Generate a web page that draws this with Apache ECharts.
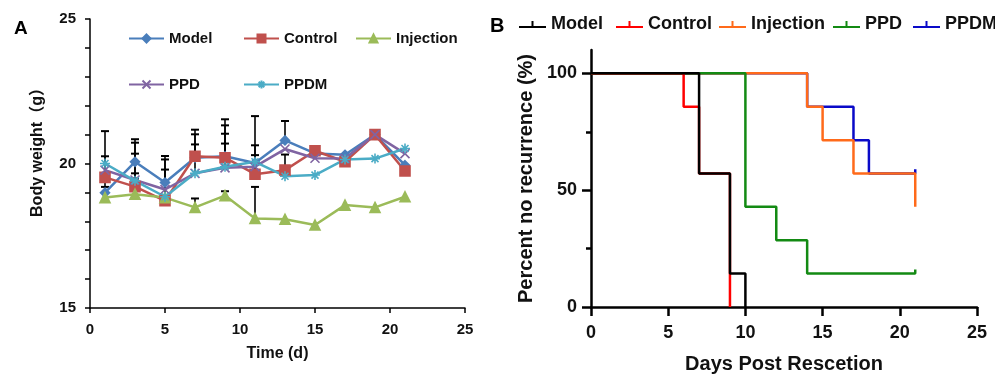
<!DOCTYPE html>
<html lang="en">

<head>
  <meta charset="UTF-8">
  <title>Body weight / recurrence</title>
  <script src="https://cdn.jsdelivr.net/npm/echarts@6/dist/echarts.min.js"></script>
  <style>
    body { margin: 0; background: #fff; }
    .panel { position: absolute; top: 0; height: 376px; }
  </style>
</head>

<body>
  <div id="chartA" class="panel" style="left:0;width:485px"></div>
  <div id="chartB" class="panel" style="left:485px;width:510px"></div>
  <script>
    // ---- panel A: body weight (g) ----
    var days = [1, 3, 5, 7, 9, 11, 13, 15, 17, 19, 21];
    var weightModel = [18.99, 20.06, 19.34, 20.2, 20.25, 20.02, 20.8, 20.35, 20.3, 21.0, 19.94];
    var weightControl = [19.52, 19.2, 18.71, 20.25, 20.2, 19.63, 19.77, 20.44, 20.06, 21.0, 19.74];
    var weightInjection = [18.82, 18.94, 18.82, 18.48, 18.89, 18.1, 18.07, 17.87, 18.56, 18.48, 18.85];
    var weightPPD = [19.77, 19.43, 19.1, 19.66, 19.85, 19.89, 20.5, 20.18, 20.17, 21.0, 20.34];
    var weightPPDM = [20.0, 19.4, 18.85, 19.66, 19.89, 20.06, 19.56, 19.6, 20.14, 20.17, 20.52];
    // upper error (SD), 0 = no bar visible
    var sdModel = [0.41, 0.78, 0.92, 0.81, 1.07, 1.62, 0.67, 0, 0, 0, 0];
    var sdControl = [0.73, 0.46, 1.08, 0.92, 1.33, 0.66, 0.54, 0, 0, 0, 0];
    var sdInjection = [0.37, 0.54, 0, 0.31, 0.15, 1.09, 0, 0, 0, 0, 0];
    var sdPPD = [0, 0.91, 1.04, 0, 0.84, 0, 0, 0, 0, 0, 0];
    var sdPPDM = [1.12, 1.32, 0, 1.0, 1.14, 0.57, 0, 0, 0, 0, 0];

    // ---- panel B: Kaplan-Meier, [day, percent] ----
    var kmModel = [[0, 100], [7, 57.1], [9, 14.3], [10, 0]];
    var kmControl = [[0, 100], [6, 85.7], [7, 57.1], [9, 0]];
    var kmInjection = [[0, 100], [14, 85.7], [15, 71.4], [17, 57.1], [21, 57.1], [21, 42.9]];
    var kmPPD = [[0, 100], [10, 42.9], [12, 28.6], [14, 14.3], [21, 14.3], [21, 16]];
    var kmPPDM = [[0, 100], [14, 85.7], [17, 71.4], [18, 57.1], [21, 57.1], [21, 59]];

    var FONT = '"Liberation Sans", Arial, "Noto Sans CJK SC", sans-serif';

    // ================= chart A =================
    var chartA = echarts.init(document.getElementById('chartA'));

    function pairs(vals) {
      return days.map(function (d, i) { return [d, vals[i]]; });
    }
    var errData = [];
    [[weightModel, sdModel], [weightControl, sdControl], [weightInjection, sdInjection],
     [weightPPD, sdPPD], [weightPPDM, sdPPDM]].forEach(function (g) {
      days.forEach(function (d, i) {
        if (g[1][i] > 0) errData.push([d, g[0][i], g[0][i] + g[1][i]]);
      });
    });

    function lineA(name, data, color, symbol, size) {
      return {
        name: name, type: 'line', data: pairs(data), z: 3,
        symbol: symbol, symbolSize: size,
        lineStyle: { color: color, width: 2.5 },
        itemStyle: { color: color, borderColor: color, borderWidth: 1.6 }
      };
    }
    function legendA(name, left, top) {
      return {
        data: [name], left: left, top: top, padding: 0,
        itemWidth: 35, itemHeight: 10,
        textStyle: { fontFamily: FONT, fontWeight: 'bold', fontSize: 15, color: '#111' }
      };
    }

    chartA.setOption({
      animation: false,
      title: { text: 'A', left: 9, top: 14, textStyle: { fontFamily: FONT, fontSize: 19, fontWeight: 'bold', color: '#000' } },
      legend: [
        legendA('Model', 128, 31), legendA('Control', 243, 31), legendA('Injection', 355, 31),
        legendA('PPD', 128, 77), legendA('PPDM', 243, 77)
      ],
      grid: { left: 90, top: 19, width: 375, height: 289, outerBoundsMode: 'none' },
      xAxis: {
        type: 'value', min: 0, max: 25, interval: 5,
        name: 'Time (d)', nameLocation: 'middle', nameGap: 38,
        nameTextStyle: { fontFamily: FONT, fontWeight: 'bold', fontSize: 16, color: '#111' },
        axisLine: { lineStyle: { color: '#000', width: 1.5 } },
        axisTick: { length: 5, lineStyle: { color: '#000', width: 1.5 } },
        axisLabel: { margin: 14, fontFamily: FONT, fontWeight: 'bold', fontSize: 15, color: '#111' },
        splitLine: { show: false }
      },
      yAxis: {
        type: 'value', min: 15, max: 25, interval: 1,
        name: 'Body weight（g）', nameLocation: 'middle', nameGap: 44,
        nameTextStyle: { fontFamily: FONT, fontWeight: 'bold', fontSize: 16, color: '#111', padding: [0, 0, 0, 30] },
        axisLine: { lineStyle: { color: '#000', width: 1.5 } },
        axisTick: { length: 5, lineStyle: { color: '#000', width: 1.5 } },
        axisLabel: {
          margin: 14, fontFamily: FONT, fontWeight: 'bold', fontSize: 15, color: '#111',
          formatter: function (v) { return v % 5 === 0 ? v : ''; }
        },
        splitLine: { show: false }
      },
      series: [
        {
          type: 'custom', z: 1, data: errData, encode: { x: 0, y: [1, 2] },
          renderItem: function (params, api) {
            var p0 = api.coord([api.value(0), api.value(1)]);
            var p1 = api.coord([api.value(0), api.value(2)]);
            return {
              type: 'group', children: [
                { type: 'line', shape: { x1: p0[0], y1: p0[1], x2: p1[0], y2: p1[1] }, style: { stroke: '#000', lineWidth: 1.6 } },
                { type: 'line', shape: { x1: p1[0] - 4, y1: p1[1], x2: p1[0] + 4, y2: p1[1] }, style: { stroke: '#000', lineWidth: 2 } }
              ]
            };
          }
        },
        lineA('Model', weightModel, '#4a7ebb', 'diamond', 9),
        lineA('Control', weightControl, '#c0504d', 'rect', 10),
        lineA('Injection', weightInjection, '#9bbb59', 'triangle', 10),
        lineA('PPD', weightPPD, '#8064a2', 'path://M0,0L10,10M10,0L0,10', 9),
        lineA('PPDM', weightPPDM, '#4bacc6', 'path://M5,0L5,10M0,5L10,5M1.5,1.5L8.5,8.5M8.5,1.5L1.5,8.5', 10)
      ]
    });

    // ================= chart B =================
    var chartB = echarts.init(document.getElementById('chartB'));
    var censorIcon = 'path://M0,7L26,7M13,7L13,1';

    function lineB(name, data, color) {
      return {
        name: name, type: 'line', step: 'end', data: data, symbol: 'none',
        lineStyle: { color: color, width: 2.5 },
        itemStyle: { color: color, borderColor: color }
      };
    }
    function legendB(name, color, left) {
      return {
        data: [{ name: name, icon: censorIcon, itemStyle: { color: color, borderColor: color, borderWidth: 2 } }],
        left: left, top: 15, padding: 0, itemWidth: 27, itemHeight: 8,
        textStyle: { fontFamily: FONT, fontWeight: 'bold', fontSize: 18, color: '#111' }
      };
    }
    var axisTextB = { fontFamily: FONT, fontWeight: 'bold', fontSize: 18, color: '#111' };

    chartB.setOption({
      animation: false,
      title: { text: 'B', left: 0, top: 11, textStyle: { fontFamily: FONT, fontSize: 20, fontWeight: 'bold', color: '#000' } },
      legend: [
        legendB('Model', '#000', 33), legendB('Control', '#ff0000', 130), legendB('Injection', '#ff6a1a', 233),
        legendB('PPD', '#138a13', 347), legendB('PPDM', '#0a0ac8', 427)
      ],
      grid: { left: 106, top: 50, width: 386, height: 257, outerBoundsMode: 'none' },
      xAxis: {
        type: 'value', min: 0, max: 25, interval: 5,
        name: 'Days Post Rescetion', nameLocation: 'middle', nameGap: 47,
        nameTextStyle: { fontFamily: FONT, fontWeight: 'bold', fontSize: 20, color: '#111' },
        axisLine: { lineStyle: { color: '#000', width: 2.5 } },
        axisTick: { length: 9, lineStyle: { color: '#000', width: 2.5 } },
        axisLabel: Object.assign({ margin: 17 }, axisTextB),
        splitLine: { show: false }
      },
      yAxis: [
        {
          type: 'value', min: 0, max: 110,
          name: 'Percent no recurrence (%)', nameLocation: 'middle', nameGap: 54,
          nameTextStyle: { fontFamily: FONT, fontWeight: 'bold', fontSize: 20, color: '#111' },
          axisLine: { lineStyle: { color: '#000', width: 2.5 } },
          axisTick: { length: 9, customValues: [0, 50, 100], lineStyle: { color: '#000', width: 2.5 } },
          axisLabel: Object.assign({ margin: 14, customValues: [0, 50, 100] }, axisTextB),
          splitLine: { show: false }
        },
        {
          type: 'value', min: 0, max: 110, position: 'left',
          axisLine: { show: false },
          axisTick: { length: 5, customValues: [25, 75], lineStyle: { color: '#000', width: 2.5 } },
          axisLabel: { show: false },
          splitLine: { show: false }
        }
      ],
      series: [
        lineB('PPDM', kmPPDM, '#0a0ac8'),
        lineB('Injection', kmInjection, '#ff6a1a'),
        lineB('PPD', kmPPD, '#138a13'),
        lineB('Control', kmControl, '#ff0000'),
        lineB('Model', kmModel, '#000')
      ]
    });
  </script>
</body>

</html>
